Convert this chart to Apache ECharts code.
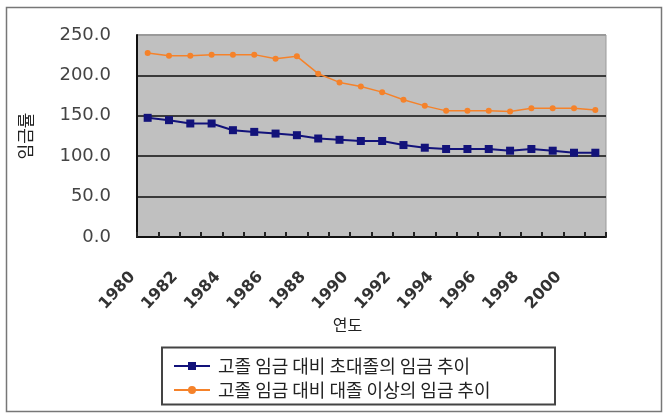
<!DOCTYPE html>
<html>
<head>
<meta charset="utf-8">
<script src="https://cdn.jsdelivr.net/npm/echarts@6/dist/echarts.min.js"></script>
<style>
html,body{margin:0;padding:0;background:#fff;}
#chart{width:666px;height:415px;}
</style>
</head>
<body>
<div id="chart"></div>
<script>
var years = ['1980','1981','1982','1983','1984','1985','1986','1987','1988','1989','1990','1991','1992','1993','1994','1995','1996','1997','1998','1999','2000','2001'];
var seriesNames = ['고졸 임금 대비 초대졸의 임금 추이', '고졸 임금 대비 대졸 이상의 임금 추이'];
var juniorCollege = [147.5,144.6,140.5,140.5,132.2,130.1,128.0,126.0,121.9,120.3,118.8,118.8,113.8,110.5,108.9,108.9,108.9,106.8,108.9,106.8,104.3,104.3];
var collegePlus = [227.8,224.4,224.4,225.7,225.7,225.7,220.7,223.6,202.1,191.3,186.3,179.3,169.8,162.3,156.1,156.1,156.1,155.3,159.4,159.4,159.4,157.3];
var yTicks = {min:0, max:250, interval:50};
var yName = '임금률';
var xName = '연도';

var chart = echarts.init(document.getElementById('chart'), null, {renderer:'canvas'});
chart.setOption({
  backgroundColor:'#fff',
  animation:false,
  graphic:[
    {type:'rect', shape:{x:6.5,y:7.5,width:655,height:404}, style:{fill:'none', stroke:'#777', lineWidth:1.5}, z:-10},
    {type:'rect', shape:{x:162,y:347.5,width:393,height:57}, style:{fill:'#fff', stroke:'#444', lineWidth:2}, z:-5}
  ],
  grid:{left:137, right:60, top:35, bottom:178, show:true, backgroundColor:'#c0c0c0', borderColor:'#9a9a9a', borderWidth:1},
  legend:{
    orient:'vertical', left:168, top:352,
    itemWidth:36, itemHeight:10, itemGap:6,
    textStyle:{fontFamily:'Noto Sans CJK KR', fontSize:18, color:'#222', lineHeight:18, padding:[0,0,0,3]},
    data:seriesNames
  },
  xAxis:{
    type:'category', data:years, boundaryGap:true,
    name:xName, nameLocation:'middle', nameGap:80,
    nameTextStyle:{fontFamily:'Noto Sans CJK KR', fontSize:16, color:'#222', padding:[0,48,0,0]},
    axisLine:{lineStyle:{color:'#111', width:2}},
    axisTick:{show:true, inside:true, length:5, interval:0, alignWithLabel:false, lineStyle:{color:'#222', width:2}},
    axisLabel:{interval:1, rotate:47, margin:21, fontFamily:'DejaVu Sans', fontWeight:'bold', fontSize:16, color:'#333',
      formatter:function(v){return v + '    ';}},
    splitLine:{show:false}
  },
  yAxis:{
    type:'value', min:yTicks.min, max:yTicks.max, interval:yTicks.interval,
    name:yName, nameLocation:'middle', nameRotate:90, nameGap:103,
    nameTextStyle:{fontFamily:'Noto Sans CJK KR', fontSize:17, color:'#222'},
    axisLine:{show:true, lineStyle:{color:'#111', width:2}},
    axisTick:{show:false},
    axisLabel:{margin:26, fontFamily:'DejaVu Sans', fontSize:18, color:'#444', formatter:function(v){return v.toFixed(1);}},
    splitLine:{show:true, lineStyle:{color:['#111','#3a3a3a','#3a3a3a','#3a3a3a','#3a3a3a','#9a9a9a'], width:2}}
  },
  series:[
    {name:seriesNames[0], type:'line', data:juniorCollege, symbol:'rect', symbolSize:8,
     itemStyle:{color:'#12127a'}, lineStyle:{color:'#12127a', width:2}},
    {name:seriesNames[1], type:'line', data:collegePlus, symbol:'circle', symbolSize:6,
     itemStyle:{color:'#f5822a'}, lineStyle:{color:'#f5822a', width:1.5}}
  ]
});
</script>
</body>
</html>
